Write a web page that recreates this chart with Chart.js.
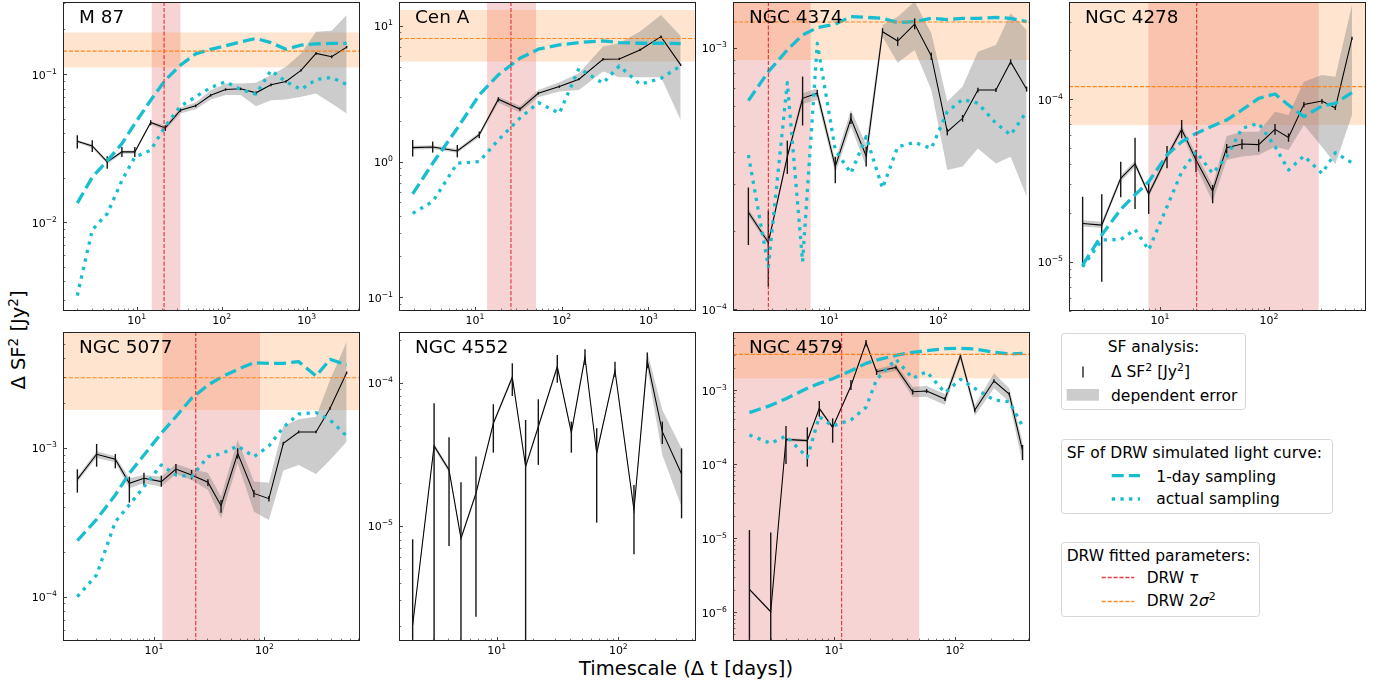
<!DOCTYPE html>
<html>
<head>
<meta charset="utf-8">
<title>Structure function analysis</title>
<script src="https://cdn.jsdelivr.net/npm/chart.js@4.4.1/dist/chart.umd.min.js"></script>
<style>
  html, body { margin: 0; padding: 0; background: #fff; }
  #fig { position: relative; width: 1385px; height: 686px; overflow: hidden; background: #fff; }
  #fig canvas { position: absolute; }
  #fig svg { position: absolute; left: 0; top: 0; }
  #fig text { font-family: "DejaVu Sans", sans-serif; fill: #000; }
</style>
</head>
<body>
<div id="fig">
<svg width="1385" height="686" viewBox="0 0 1385 686">
  <!-- shared axis titles -->
  <text x="686" y="675" font-size="19.5" text-anchor="middle">Timescale (Δ t [days])</text>
  <text transform="translate(25,340) rotate(-90)" font-size="19.5" text-anchor="middle">Δ SF<tspan dy="-7.5" font-size="13.6">2</tspan><tspan dy="7.5"> [Jy</tspan><tspan dy="-7.5" font-size="13.6">2</tspan><tspan dy="7.5">]</tspan></text>

  <g font-size="15.5">
    <!-- SF analysis -->
    <rect x="1061.5" y="333.5" width="184" height="76" rx="3" fill="#fff" stroke="#d6d6d6" stroke-width="1"/>
    <text x="1153.5" y="351.5" text-anchor="middle">SF analysis:</text>
    <line x1="1083" y1="366.5" x2="1083" y2="377.5" stroke="#111" stroke-width="1.3"/>
    <text x="1111" y="377">Δ SF<tspan dy="-6" font-size="10.9">2</tspan><tspan dy="6"> [Jy</tspan><tspan dy="-6" font-size="10.9">2</tspan><tspan dy="6">]</tspan></text>
    <rect x="1066.7" y="389" width="32.3" height="11.7" fill="rgba(128,128,128,0.4)"/>
    <text x="1111" y="400.5">dependent error</text>

    <!-- simulated light curves -->
    <rect x="1061.5" y="439.5" width="271" height="74" rx="3" fill="#fff" stroke="#d6d6d6" stroke-width="1"/>
    <text x="1066.7" y="457.7">SF of DRW simulated light curve:</text>
    <line x1="1111.7" y1="475.7" x2="1140" y2="475.7" stroke="#17becf" stroke-width="3.3" stroke-dasharray="12 5.2"/>
    <text x="1156.3" y="481.7">1-day sampling</text>
    <line x1="1111.7" y1="499" x2="1140" y2="499" stroke="#17becf" stroke-width="3.3" stroke-dasharray="3.3 5.4"/>
    <text x="1156.3" y="504.3">actual sampling</text>

    <!-- fitted parameters -->
    <rect x="1061.5" y="542.5" width="198" height="74" rx="3" fill="#fff" stroke="#d6d6d6" stroke-width="1"/>
    <text x="1066.7" y="560.7">DRW fitted parameters:</text>
    <line x1="1101.7" y1="577.5" x2="1134.3" y2="577.5" stroke="rgb(230,60,70)" stroke-width="1.3" stroke-dasharray="4.1 1.8"/>
    <text x="1146.7" y="582.7">DRW <tspan font-style="italic">τ</tspan></text>
    <line x1="1101.7" y1="601.5" x2="1134.3" y2="601.5" stroke="rgb(255,140,40)" stroke-width="1.3" stroke-dasharray="4.1 1.8"/>
    <text x="1146.7" y="606">DRW 2<tspan font-style="italic">σ</tspan><tspan dy="-6" font-size="10.9">2</tspan></text>
  </g>
</svg>
</div>
<script>
const panelNames = ['M 87', 'Cen A', 'NGC 4374', 'NGC 4278', 'NGC 5077', 'NGC 4552', 'NGC 4579'];

// ---------- M 87 ----------
const m87Dt     = [2.0, 3.0, 4.5, 6.7, 9.5, 14.6, 21.7, 32.7, 49.4, 74.3, 111, 167, 253, 380, 571, 857, 1288, 1966, 2951];
const m87Sf     = [0.0353, 0.0328, 0.0256, 0.0299, 0.0299, 0.0472, 0.0434, 0.0571, 0.0611, 0.0721, 0.0788, 0.0796, 0.0748, 0.0847, 0.0892, 0.106, 0.138, 0.131, 0.152];
const m87ErrLo  = [0.0315, 0.0299, 0.0230, 0.0276, 0.0276, 0.0452, 0.0414, 0.0557, 0.0599, 0.0707, 0.0772, 0.0780, 0.0733, 0.0830, 0.0874, 0.104, 0.135, 0.128, 0.149];
const m87ErrHi  = [0.0387, 0.0358, 0.0279, 0.0323, 0.0323, 0.0489, 0.0452, 0.0586, 0.0624, 0.0735, 0.0804, 0.0812, 0.0763, 0.0864, 0.0910, 0.108, 0.141, 0.134, 0.155];
const m87BandLo = [0.0345, 0.0318, 0.0248, 0.0290, 0.0290, 0.0460, 0.0418, 0.0542, 0.0580, 0.0675, 0.0722, 0.0722, 0.0608, 0.0667, 0.0675, 0.0703, 0.0740, 0.0634, 0.0542];
const m87BandHi = [0.0360, 0.0335, 0.0262, 0.0305, 0.0305, 0.0480, 0.0450, 0.0595, 0.0644, 0.0780, 0.0865, 0.0865, 0.0874, 0.0985, 0.112, 0.138, 0.193, 0.196, 0.250];
const m87Sim1   = [0.0135, 0.0202, 0.0260, 0.0340, 0.0464, 0.0667, 0.0911, 0.115, 0.137, 0.147, 0.155, 0.165, 0.174, 0.163, 0.147, 0.157, 0.160, 0.161, 0.161];
const m87SimA   = [0.00321, 0.00892, 0.01145, 0.0192, 0.0276, 0.0307, 0.0446, 0.0608, 0.0703, 0.0813, 0.0888, 0.0788, 0.0733, 0.106, 0.0888, 0.0788, 0.092, 0.095, 0.0851];
const m87Tau = 21, m87TauBand = [15, 32.7];
const m87Sig = 0.143, m87SigBand = [0.111, 0.191];
const m87XRange = [1.358, 4236], m87YRange = [0.002528, 0.3065];
const m87XTicks = [10, 100, 1000], m87YTicks = [0.01, 0.1];

// ---------- Cen A ----------
const cenaDt     = [1.91, 3.25, 6.25, 11.2, 18.6, 33.0, 53.8, 94, 158.5, 300, 462, 801, 1400, 2360];
const cenaSf     = [1.268, 1.282, 1.198, 1.58, 2.88, 2.44, 3.19, 3.57, 4.05, 5.68, 5.71, 6.65, 8.34, 5.16];
const cenaErrLo  = [1.089, 1.165, 1.076, 1.486, 2.77, 2.37, 3.12, 3.50, 3.97, 5.57, 5.60, 6.52, 8.17, 5.06];
const cenaErrHi  = [1.444, 1.404, 1.327, 1.664, 2.98, 2.52, 3.26, 3.64, 4.13, 5.79, 5.82, 6.78, 8.51, 5.26];
const cenaBandLo = [1.23, 1.24, 1.16, 1.51, 2.72, 2.30, 2.98, 3.28, 3.37, 4.61, 4.18, 4.18, 4.18, 2.03];
const cenaBandHi = [1.31, 1.32, 1.24, 1.64, 3.01, 2.57, 3.37, 3.85, 4.48, 7.04, 7.45, 9.08, 12.05, 8.44];
const cenaSim1   = [0.578, 0.972, 1.76, 3.10, 4.36, 5.78, 6.73, 7.24, 7.54, 7.75, 7.54, 7.45, 7.45, 7.41];
const cenaSimA   = [0.416, 0.507, 0.972, 1.0, 1.445, 2.09, 2.72, 2.27, 4.87, 3.78, 5.07, 3.71, 4.11, 5.07];
const cenaTau = 26, cenaTauBand = [13.8, 50.6];
const cenaSig = 8.07, cenaSigBand = [5.46, 13.1];
const cenaXRange = [1.328, 3548], cenaYRange = [0.0793, 15.0];
const cenaXTicks = [10, 100, 1000], cenaYTicks = [0.1, 1, 10];

// ---------- NGC 4374 ----------
const n4374Dt     = [1.81, 2.76, 4.12, 5.69, 7.76, 11.35, 15.8, 21.8, 30.8, 42.4, 60.7, 86.3, 121, 167, 231, 338, 461, 646];
const n4374Sf     = [2.35e-4, 1.80e-4, 3.83e-4, 6.40e-4, 6.69e-4, 3.51e-4, 5.36e-4, 3.85e-4, 1.15e-3, 1.06e-3, 1.23e-3, 9.29e-4, 4.77e-4, 5.37e-4, 6.89e-4, 6.89e-4, 8.82e-4, 6.93e-4];
const n4374ErrLo  = [1.76e-4, 1.22e-4, 3.29e-4, 5.04e-4, 6.50e-4, 3.03e-4, 5.11e-4, 3.51e-4, 1.135e-3, 1.015e-3, 1.175e-3, 8.97e-4, 4.62e-4, 5.21e-4, 6.74e-4, 6.77e-4, 8.62e-4, 6.79e-4];
const n4374ErrHi  = [2.92e-4, 2.38e-4, 4.41e-4, 7.75e-4, 6.89e-4, 3.83e-4, 5.61e-4, 4.18e-4, 1.186e-3, 1.095e-3, 1.294e-3, 9.57e-4, 4.90e-4, 5.53e-4, 7.03e-4, 7.01e-4, 9.02e-4, 7.10e-4];
const n4374BandLo = [2.28e-4, 1.75e-4, 3.72e-4, 6.09e-4, 6.31e-4, 3.31e-4, 4.99e-4, 3.51e-4, 1.10e-3, 8.76e-4, 9.80e-4, 6.89e-4, 3.41e-4, 3.51e-4, 4.12e-4, 3.61e-4, 3.83e-4, 2.70e-4];
const n4374BandHi = [2.42e-4, 1.85e-4, 3.95e-4, 6.69e-4, 6.99e-4, 3.72e-4, 5.78e-4, 4.25e-4, 1.22e-3, 1.313e-3, 1.50e-3, 1.135e-3, 6.22e-4, 7.10e-4, 9.65e-4, 1.024e-3, 1.352e-3, 1.168e-3];
const n4374Sim1   = [6.27e-4, 8.09e-4, 9.80e-4, 1.118e-3, 1.192e-3, 1.23e-3, 1.313e-3, 1.305e-3, 1.294e-3, 1.246e-3, 1.257e-3, 1.294e-3, 1.28e-3, 1.294e-3, 1.294e-3, 1.305e-3, 1.294e-3, 1.257e-3];
const n4374SimA   = [3.89e-4, 1.455e-4, 7.35e-4, 1.52e-4, 1.039e-3, 4.06e-4, 3.31e-4, 4.57e-4, 2.90e-4, 4.18e-4, 4.34e-4, 4.12e-4, 5.69e-4, 6.34e-4, 6.13e-4, 5.14e-4, 4.64e-4, 5.69e-4];
const n4374Tau = 2.76, n4374TauBand = [1.0, 6.74];
const n4374Sig = 1.253e-3, n4374SigBand = [8.97e-4, 3e-3];
const n4374XRange = [1.308, 694], n4374YRange = [9.85e-5, 1.494e-3];
const n4374XTicks = [10, 100], n4374YTicks = [1e-4, 1e-3];

// ---------- NGC 4278 ----------
const n4278Dt     = [1.95, 2.92, 4.36, 5.90, 7.87, 11.6, 15.8, 21.4, 30.4, 40.9, 56.5, 80.4, 113.5, 151, 209, 306, 406, 577];
const n4278Sf     = [1.72e-5, 1.68e-5, 3.26e-5, 4.00e-5, 2.61e-5, 4.44e-5, 6.53e-5, 4.23e-5, 2.72e-5, 5.04e-5, 5.31e-5, 5.26e-5, 6.53e-5, 5.83e-5, 9.31e-5, 9.77e-5, 8.85e-5, 2.376e-4];
const n4278ErrLo  = [9.31e-6, 7.53e-6, 2.49e-5, 2.11e-5, 1.97e-5, 3.76e-5, 5.75e-5, 3.55e-5, 2.29e-5, 4.65e-5, 4.92e-5, 4.76e-5, 6.06e-5, 5.48e-5, 8.93e-5, 9.40e-5, 8.60e-5, 2.33e-4];
const n4278ErrHi  = [2.51e-5, 2.60e-5, 4.13e-5, 5.81e-5, 3.11e-5, 5.16e-5, 7.46e-5, 4.88e-5, 2.97e-5, 5.31e-5, 5.67e-5, 5.67e-5, 7.05e-5, 6.17e-5, 9.63e-5, 1.005e-4, 9.10e-5, 2.43e-4];
const n4278BandLo = [1.65e-5, 1.61e-5, 3.12e-5, 3.83e-5, 2.50e-5, 4.25e-5, 6.20e-5, 3.85e-5, 2.34e-5, 4.23e-5, 4.44e-5, 4.54e-5, 5.11e-5, 4.88e-5, 6.95e-5, 5.11e-5, 4.00e-5, 8.01e-5];
const n4278BandHi = [1.80e-5, 1.76e-5, 3.41e-5, 4.18e-5, 2.73e-5, 4.64e-5, 6.90e-5, 4.60e-5, 2.97e-5, 5.94e-5, 6.32e-5, 6.32e-5, 8.40e-5, 8.01e-5, 1.285e-4, 1.41e-4, 1.38e-4, 3.81e-4];
const n4278Sim1   = [9.54e-6, 1.46e-5, 2.10e-5, 2.58e-5, 3.11e-5, 4.54e-5, 5.48e-5, 6.17e-5, 6.85e-5, 7.46e-5, 8.60e-5, 1.014e-4, 1.079e-4, 9.23e-5, 7.82e-5, 9.10e-5, 9.45e-5, 1.099e-4];
const n4278SimA   = [9.31e-6, 1.36e-5, 1.37e-5, 1.58e-5, 1.18e-5, 2.18e-5, 3.58e-5, 4.76e-5, 3.50e-5, 4.44e-5, 6.63e-5, 7.12e-5, 5.12e-5, 3.67e-5, 4.48e-5, 3.50e-5, 4.69e-5, 4.07e-5];
const n4278Tau = 21.7, n4278TauBand = [7.82, 285.6];
const n4278Sig = 1.197e-4, n4278SigBand = [6.95e-5, 1e-3];
const n4278XRange = [1.462, 776], n4278YRange = [4.97e-6, 3.977e-4];
const n4278XTicks = [10, 100], n4278YTicks = [1e-5, 1e-4];

// ---------- NGC 5077 ----------
const n5077Dt     = [2.02, 3.02, 4.46, 5.98, 8.11, 11.65, 15.8, 21.9, 30.8, 40.5, 57.3, 80.5, 110, 148.6, 204.6, 294, 394, 557];
const n5077Sf     = [6.15e-4, 9.07e-4, 8.39e-4, 5.79e-4, 6.25e-4, 5.94e-4, 7.22e-4, 6.58e-4, 5.88e-4, 4.09e-4, 9.21e-4, 4.95e-4, 4.56e-4, 1.075e-3, 1.282e-3, 1.282e-3, 1.85e-3, 3.21e-3];
const n5077ErrLo  = [5.01e-4, 7.49e-4, 7.30e-4, 4.29e-4, 5.64e-4, 5.49e-4, 6.58e-4, 6.15e-4, 5.55e-4, 3.67e-4, 8.48e-4, 4.66e-4, 4.36e-4, 1.05e-3, 1.255e-3, 1.255e-3, 1.81e-3, 3.15e-3];
const n5077ErrHi  = [7.19e-4, 1.064e-3, 9.12e-4, 6.41e-4, 6.82e-4, 6.52e-4, 7.81e-4, 7.11e-4, 6.15e-4, 4.47e-4, 9.95e-4, 5.22e-4, 4.75e-4, 1.10e-3, 1.31e-3, 1.31e-3, 1.89e-3, 3.27e-3];
const n5077BandLo = [5.9e-4, 8.6e-4, 8.0e-4, 5.36e-4, 5.79e-4, 5.49e-4, 6.68e-4, 6.09e-4, 5.22e-4, 3.37e-4, 7.88e-4, 3.73e-4, 3.28e-4, 7.05e-4, 7.69e-4, 6.68e-4, 8.31e-4, 1.103e-3];
const n5077BandHi = [6.4e-4, 9.5e-4, 8.8e-4, 6.25e-4, 6.58e-4, 6.41e-4, 7.81e-4, 7.19e-4, 6.82e-4, 4.71e-4, 1.132e-3, 5.94e-4, 5.84e-4, 1.406e-3, 1.56e-3, 1.625e-3, 2.87e-3, 5.19e-3];
const n5077Sim1   = [2.38e-4, 3.31e-4, 4.83e-4, 6.76e-4, 8.97e-4, 1.256e-3, 1.625e-3, 2.16e-3, 2.65e-3, 2.99e-3, 3.38e-3, 3.75e-3, 3.71e-3, 3.71e-3, 3.81e-3, 3.05e-3, 3.95e-3, 3.62e-3];
const n5077SimA   = [1.0e-4, 1.40e-4, 3.19e-4, 4.14e-4, 5.49e-4, 7.69e-4, 6.58e-4, 6.41e-4, 8.74e-4, 9.12e-4, 1.031e-3, 8.74e-4, 1.031e-3, 1.377e-3, 1.693e-3, 1.729e-3, 1.543e-3, 1.205e-3];
const n5077Tau = 23.9, n5077TauBand = [11.9, 91.3];
const n5077Sig = 2.97e-3, n5077SigBand = [1.80e-3, 1e-2];
const n5077XRange = [1.497, 736], n5077YRange = [5.03e-5, 6.03e-3];
const n5077XTicks = [10, 100], n5077YTicks = [1e-4, 1e-3];

// ---------- NGC 4552 (no DRW fit) ----------
const n4552Dt     = [2.04, 3.06, 4.06, 5.09, 6.76, 9.39, 13.45, 17.3, 22.0, 31.5, 41.1, 53.2, 66.4, 93.9, 134.5, 173, 230, 331];
const n4552Sf     = [2.02e-6, 3.61e-5, 2.45e-5, 8.15e-6, 1.68e-5, 5.19e-5, 1.09e-4, 2.59e-5, 4.92e-5, 1.294e-4, 4.47e-5, 1.504e-4, 3.21e-5, 1.213e-4, 1.287e-5, 1.425e-4, 4.54e-5, 2.30e-5];
const n4552ErrLo  = [0, 0, 7.21e-6, 0, 2.31e-6, 3.24e-5, 8.07e-5, 0, 2.66e-5, 1.0e-4, 3.24e-5, 1.329e-4, 1.05e-5, 1.09e-4, 6.31e-6, 1.26e-4, 3.72e-5, 1.125e-5];
const n4552ErrHi  = [8.02e-6, 7.17e-5, 4.15e-5, 2.01e-5, 3.04e-5, 7.06e-5, 1.365e-4, 5.48e-5, 7.65e-5, 1.561e-4, 5.34e-5, 1.71e-4, 4.80e-5, 1.402e-4, 1.925e-5, 1.622e-4, 5.34e-5, 3.47e-5];
const n4552BandLo = [1.94e-6, 3.47e-5, 2.35e-5, 7.8e-6, 1.61e-5, 4.98e-5, 1.045e-4, 2.49e-5, 4.72e-5, 1.24e-4, 4.29e-5, 1.44e-4, 3.08e-5, 1.16e-4, 1.235e-5, 1.26e-4, 3.12e-5, 1.358e-5];
const n4552BandHi = [2.1e-6, 3.75e-5, 2.55e-5, 8.5e-6, 1.75e-5, 5.4e-5, 1.135e-4, 2.69e-5, 5.12e-5, 1.345e-4, 4.65e-5, 1.565e-4, 3.34e-5, 1.26e-4, 1.34e-5, 1.647e-4, 6.44e-5, 3.47e-5];
const n4552XRange = [1.575, 435], n4552YRange = [1.561e-6, 2.26e-4];
const n4552XTicks = [10, 100], n4552YTicks = [1e-5, 1e-4];

// ---------- NGC 4579 ----------
const n4579Dt     = [2.0, 3.0, 4.01, 6.02, 7.56, 9.75, 13.8, 18.4, 22.5, 32.5, 44.7, 58.3, 82.7, 111, 146, 210, 281, 362];
const n4579Sf     = [2.02e-6, 1.01e-6, 2.15e-4, 2.07e-4, 5.65e-4, 3.13e-4, 1.132e-3, 4.36e-3, 1.769e-3, 2.02e-3, 9.49e-4, 9.69e-4, 7.56e-4, 2.88e-3, 5.37e-4, 1.324e-3, 8.83e-4, 1.513e-4];
const n4579ErrLo  = [0, 0, 1.0e-4, 9.2e-5, 4.36e-4, 1.94e-4, 1.0e-3, 3.86e-3, 1.6e-3, 1.91e-3, 8.7e-4, 9.1e-4, 7.1e-4, 2.7e-3, 5.0e-4, 1.25e-3, 8.4e-4, 1.13e-4];
const n4579ErrHi  = [1.28e-5, 1.19e-5, 3.26e-4, 3.13e-4, 7.1e-4, 4.14e-4, 1.365e-3, 4.74e-3, 1.9e-3, 2.12e-3, 1.02e-3, 1.03e-3, 8.0e-4, 3.05e-3, 5.7e-4, 1.4e-3, 9.3e-4, 1.81e-4];
const n4579BandLo = [1.95e-6, 0.97e-6, 2.05e-4, 1.97e-4, 5.4e-4, 2.98e-4, 1.08e-3, 4.2e-3, 1.62e-3, 1.8e-3, 7.96e-4, 8.13e-4, 6.27e-4, 2.54e-3, 4.5e-4, 1.053e-3, 6.95e-4, 1.02e-4];
const n4579BandHi = [2.1e-6, 1.05e-6, 2.25e-4, 2.17e-4, 5.9e-4, 3.28e-4, 1.18e-3, 4.5e-3, 1.93e-3, 2.25e-3, 1.11e-3, 1.13e-3, 8.83e-4, 3.23e-3, 6.27e-4, 1.68e-3, 1.053e-3, 2.0e-4];
const n4579Sim1   = [4.94e-4, 6.21e-4, 7.64e-4, 1.053e-3, 1.23e-3, 1.422e-3, 1.825e-3, 2.29e-3, 2.54e-3, 2.94e-3, 3.23e-3, 3.40e-3, 3.62e-3, 3.66e-3, 3.58e-3, 3.23e-3, 3.07e-3, 3.13e-3];
const n4579SimA   = [2.47e-4, 1.90e-4, 2.39e-4, 1.23e-4, 4.36e-4, 3.26e-4, 3.94e-4, 5.83e-4, 1.393e-3, 2.60e-3, 1.44e-3, 1.77e-3, 9.2e-4, 1.393e-3, 1.053e-3, 7.33e-4, 6.95e-4, 3.26e-4];
const n4579Tau = 11.57, n4579TauBand = [1.0, 50.7];
const n4579Sig = 3.03e-3, n4579SigBand = [1.44e-3, 0.1];
const n4579XRange = [1.463, 417], n4579YRange = [4.06e-7, 6.08e-3];
const n4579XTicks = [10, 100], n4579YTicks = [1e-6, 1e-5, 1e-4, 1e-3];

// ---------- styling ----------
const CYAN = '#17becf';
const GREY_BAND = 'rgba(128,128,128,0.4)';
const TAU_BAND = 'rgba(214,39,40,0.2)';
const SIG_BAND = 'rgba(255,127,14,0.2)';
const TAU_LINE = 'rgba(225,20,30,0.85)';
const SIG_LINE = 'rgba(255,127,14,0.95)';
const FONT = '"DejaVu Sans", sans-serif';

// each panel canvas holds a 297 x 309 plot area plus room for tick labels
const PAD = { left: 60, top: 2, right: 4, bottom: 30 };
const AXW = 297, AXH = 309;

const panels = [
  { name: panelNames[0], left: 63, top: 2, dt: m87Dt, sf: m87Sf, errLo: m87ErrLo, errHi: m87ErrHi, bandLo: m87BandLo, bandHi: m87BandHi,
    sim1: m87Sim1, simA: m87SimA, tau: m87Tau, tauBand: m87TauBand, sig: m87Sig, sigBand: m87SigBand,
    xRange: m87XRange, yRange: m87YRange, xTicks: m87XTicks, yTicks: m87YTicks },
  { name: panelNames[1], left: 399, top: 2, dt: cenaDt, sf: cenaSf, errLo: cenaErrLo, errHi: cenaErrHi, bandLo: cenaBandLo, bandHi: cenaBandHi,
    sim1: cenaSim1, simA: cenaSimA, tau: cenaTau, tauBand: cenaTauBand, sig: cenaSig, sigBand: cenaSigBand,
    xRange: cenaXRange, yRange: cenaYRange, xTicks: cenaXTicks, yTicks: cenaYTicks },
  { name: panelNames[2], left: 733, top: 2, dt: n4374Dt, sf: n4374Sf, errLo: n4374ErrLo, errHi: n4374ErrHi, bandLo: n4374BandLo, bandHi: n4374BandHi,
    sim1: n4374Sim1, simA: n4374SimA, tau: n4374Tau, tauBand: n4374TauBand, sig: n4374Sig, sigBand: n4374SigBand,
    xRange: n4374XRange, yRange: n4374YRange, xTicks: n4374XTicks, yTicks: n4374YTicks },
  { name: panelNames[3], left: 1069, top: 2, dt: n4278Dt, sf: n4278Sf, errLo: n4278ErrLo, errHi: n4278ErrHi, bandLo: n4278BandLo, bandHi: n4278BandHi,
    sim1: n4278Sim1, simA: n4278SimA, tau: n4278Tau, tauBand: n4278TauBand, sig: n4278Sig, sigBand: n4278SigBand,
    xRange: n4278XRange, yRange: n4278YRange, xTicks: n4278XTicks, yTicks: n4278YTicks },
  { name: panelNames[4], left: 63, top: 332, dt: n5077Dt, sf: n5077Sf, errLo: n5077ErrLo, errHi: n5077ErrHi, bandLo: n5077BandLo, bandHi: n5077BandHi,
    sim1: n5077Sim1, simA: n5077SimA, tau: n5077Tau, tauBand: n5077TauBand, sig: n5077Sig, sigBand: n5077SigBand,
    xRange: n5077XRange, yRange: n5077YRange, xTicks: n5077XTicks, yTicks: n5077YTicks },
  { name: panelNames[5], left: 399, top: 332, dt: n4552Dt, sf: n4552Sf, errLo: n4552ErrLo, errHi: n4552ErrHi, bandLo: n4552BandLo, bandHi: n4552BandHi,
    xRange: n4552XRange, yRange: n4552YRange, xTicks: n4552XTicks, yTicks: n4552YTicks },
  { name: panelNames[6], left: 733, top: 332, dt: n4579Dt, sf: n4579Sf, errLo: n4579ErrLo, errHi: n4579ErrHi, bandLo: n4579BandLo, bandHi: n4579BandHi,
    sim1: n4579Sim1, simA: n4579SimA, tau: n4579Tau, tauBand: n4579TauBand, sig: n4579Sig, sigBand: n4579SigBand,
    xRange: n4579XRange, yRange: n4579YRange, xTicks: n4579XTicks, yTicks: n4579YTicks }
];

const pts = (xs, ys) => xs.map((x, i) => ({ x, y: ys[i] }));

function expText(v) {
  const e = Math.round(Math.log10(v));
  return (e < 0 ? '\u2212' : '') + Math.abs(e);
}

// "10" followed by a raised exponent, like mathtext tick labels
function drawPow10(ctx, v, x, y, anchor) {
  const sup = expText(v);
  ctx.font = '11px ' + FONT;
  const wb = ctx.measureText('10').width;
  ctx.font = '7.7px ' + FONT;
  const ws = ctx.measureText(sup).width;
  const x0 = anchor === 'center' ? x - (wb + ws) / 2 : x - (wb + ws);
  ctx.textAlign = 'left';
  ctx.textBaseline = 'alphabetic';
  ctx.fillStyle = '#000';
  ctx.font = '11px ' + FONT;
  ctx.fillText('10', x0, y);
  ctx.font = '7.7px ' + FONT;
  ctx.fillText(sup, x0 + wb, y - 5);
}

// minor ticks at 2..9 x 10^n inside the axis range
function minorTicks(lo, hi) {
  const out = [];
  for (let e = Math.floor(Math.log10(lo)); e <= Math.ceil(Math.log10(hi)); e++) {
    for (let m = 2; m <= 9; m++) {
      const v = m * Math.pow(10, e);
      if (v >= lo && v <= hi) out.push(v);
    }
  }
  return out;
}

function clipArea(ctx, a) {
  ctx.beginPath();
  ctx.rect(a.left, a.top, a.right - a.left, a.bottom - a.top);
  ctx.clip();
}

const panelDecor = {
  id: 'panelDecor',
  beforeDatasetsDraw(chart, args, o) {
    const { ctx, chartArea: a } = chart;
    const xs = chart.scales.x, ys = chart.scales.y;
    ctx.save();
    clipArea(ctx, a);
    if (o.tauBand) {
      const x0 = xs.getPixelForValue(o.tauBand[0]), x1 = xs.getPixelForValue(o.tauBand[1]);
      ctx.fillStyle = TAU_BAND;
      ctx.fillRect(x0, a.top, x1 - x0, a.bottom - a.top);
    }
    if (o.sigBand) {
      const y0 = ys.getPixelForValue(o.sigBand[1]), y1 = ys.getPixelForValue(o.sigBand[0]);
      ctx.fillStyle = SIG_BAND;
      ctx.fillRect(a.left, y0, a.right - a.left, y1 - y0);
    }
    ctx.restore();
  },
  afterDatasetDraw(chart, args) {
    const ds = chart.data.datasets[args.index];
    if (!ds.errLo) return;
    const { ctx, chartArea: a } = chart;
    const xs = chart.scales.x, ys = chart.scales.y;
    ctx.save();
    clipArea(ctx, a);
    ctx.strokeStyle = '#151515';
    ctx.lineWidth = 1.4;
    ds.data.forEach((p, i) => {
      const px = xs.getPixelForValue(p.x);
      const yHi = ys.getPixelForValue(ds.errHi[i]);
      const yLo = ds.errLo[i] > 0 ? ys.getPixelForValue(ds.errLo[i]) : ys.getPixelForValue(ys.min);
      ctx.beginPath();
      ctx.moveTo(px, yHi);
      ctx.lineTo(px, yLo);
      ctx.stroke();
    });
    ctx.restore();
  },
  afterDatasetsDraw(chart, args, o) {
    const { ctx, chartArea: a } = chart;
    const xs = chart.scales.x, ys = chart.scales.y;
    ctx.save();
    clipArea(ctx, a);
    ctx.lineWidth = 1.1;
    ctx.setLineDash([4.1, 1.8]);
    if (o.tau) {
      const px = xs.getPixelForValue(o.tau);
      ctx.strokeStyle = TAU_LINE;
      ctx.beginPath(); ctx.moveTo(px, a.top); ctx.lineTo(px, a.bottom); ctx.stroke();
    }
    if (o.sig) {
      const py = ys.getPixelForValue(o.sig);
      ctx.strokeStyle = SIG_LINE;
      ctx.beginPath(); ctx.moveTo(a.left, py); ctx.lineTo(a.right, py); ctx.stroke();
    }
    ctx.restore();
  },
  afterDraw(chart, args, o) {
    const { ctx, chartArea: a } = chart;
    const xs = chart.scales.x, ys = chart.scales.y;
    ctx.save();
    // frame
    ctx.strokeStyle = '#222';
    ctx.lineWidth = 1;
    ctx.strokeRect(a.left + 0.5, a.top + 0.5, a.right - a.left - 1, a.bottom - a.top - 1);
    // ticks point into the plot
    ctx.strokeStyle = '#333';
    const tick = (horizontal, pos, len, w) => {
      ctx.lineWidth = w;
      ctx.beginPath();
      if (horizontal) {
        const px = Math.round(pos) + 0.5;
        ctx.moveTo(px, a.bottom); ctx.lineTo(px, a.bottom - len);
      } else {
        const py = Math.round(pos) + 0.5;
        ctx.moveTo(a.left, py); ctx.lineTo(a.left + len, py);
      }
      ctx.stroke();
    };
    minorTicks(xs.min, xs.max).forEach(v => tick(true, xs.getPixelForValue(v), 2.4, 0.7));
    minorTicks(ys.min, ys.max).forEach(v => tick(false, ys.getPixelForValue(v), 2.4, 0.7));
    o.xTicks.forEach(v => tick(true, xs.getPixelForValue(v), 4, 0.9));
    o.yTicks.forEach(v => tick(false, ys.getPixelForValue(v), 4, 0.9));
    // tick labels
    o.xTicks.forEach(v => drawPow10(ctx, v, xs.getPixelForValue(v), a.bottom + 12.5, 'center'));
    o.yTicks.forEach(v => drawPow10(ctx, v, a.left - 6, ys.getPixelForValue(v) + 4.5, 'right'));
    // panel name
    ctx.fillStyle = '#000';
    ctx.font = '18.4px ' + FONT;
    ctx.textAlign = 'left';
    ctx.textBaseline = 'alphabetic';
    ctx.fillText(o.name, a.left + 16, a.top + 21);
    ctx.restore();
  }
};

const fig = document.getElementById('fig');

panels.forEach(p => {
  const W = PAD.left + AXW + PAD.right, H = PAD.top + AXH + PAD.bottom;
  const cv = document.createElement('canvas');
  cv.width = W; cv.height = H;
  cv.style.width = W + 'px'; cv.style.height = H + 'px';
  cv.style.left = (p.left - PAD.left) + 'px';
  cv.style.top = (p.top - PAD.top) + 'px';
  fig.appendChild(cv);

  const datasets = [
    { label: 'dependent error (lower)', data: pts(p.dt, p.bandLo), borderColor: 'rgba(0,0,0,0)', borderWidth: 1,
      pointRadius: 0, fill: false, order: 6, clip: 0 },
    { label: 'dependent error', data: pts(p.dt, p.bandHi), borderColor: 'rgba(0,0,0,0)', borderWidth: 1,
      pointRadius: 0, fill: '-1', backgroundColor: GREY_BAND, order: 5, clip: 0 },
    { label: 'ΔSF²', data: pts(p.dt, p.sf), borderColor: '#000', borderWidth: 1.05, pointRadius: 0,
      fill: false, order: 3, clip: 0, errLo: p.errLo, errHi: p.errHi }
  ];
  if (p.sim1) {
    datasets.push({ label: '1-day sampling', data: pts(p.dt, p.sim1), borderColor: CYAN, borderWidth: 3.3,
      borderDash: [12, 5.2], borderJoinStyle: 'round', pointRadius: 0, fill: false, order: 2, clip: 0 });
  }
  if (p.simA) {
    datasets.push({ label: 'actual sampling', data: pts(p.dt, p.simA), borderColor: CYAN, borderWidth: 3.3,
      borderDash: [3.3, 5.4], borderJoinStyle: 'round', pointRadius: 0, fill: false, order: 1, clip: 0 });
  }

  new Chart(cv, {
    type: 'line',
    data: { datasets },
    plugins: [panelDecor],
    options: {
      responsive: false,
      animation: false,
      devicePixelRatio: 1,
      events: [],
      layout: { padding: PAD },
      elements: { line: { tension: 0 }, point: { radius: 0 } },
      plugins: {
        legend: { display: false },
        tooltip: { enabled: false },
        panelDecor: {
          name: p.name, tau: p.tau, tauBand: p.tauBand, sig: p.sig, sigBand: p.sigBand,
          xTicks: p.xTicks, yTicks: p.yTicks
        }
      },
      scales: {
        x: { type: 'logarithmic', display: false, bounds: 'data', min: p.xRange[0], max: p.xRange[1] },
        y: { type: 'logarithmic', display: false, bounds: 'data', min: p.yRange[0], max: p.yRange[1] }
      }
    }
  });
});
</script>
</body>
</html>
